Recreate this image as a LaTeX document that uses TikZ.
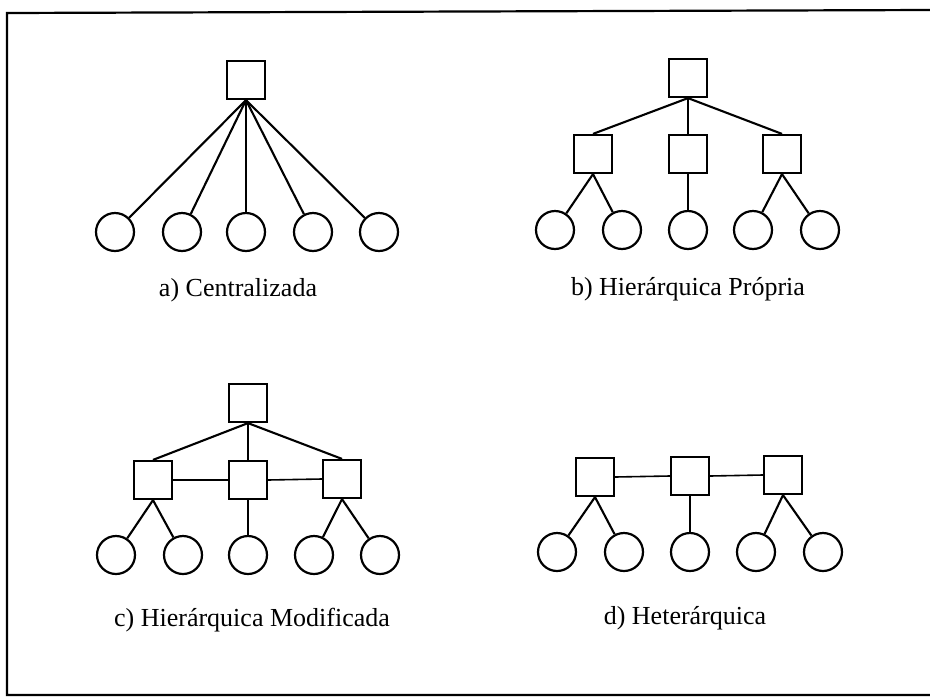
\documentclass[tikz,border=0pt]{standalone}
\usepackage{fontspec}
\setmainfont{Liberation Serif}
\begin{document}
\begin{tikzpicture}[x=1pt,y=-1pt,
  sq/.style={draw,line width=2.2pt,minimum size=38pt,inner sep=0pt},
  cr/.style={draw,circle,line width=2.2pt,minimum size=38pt,inner sep=0pt},
  ln/.style={line width=2.1pt},
  hl/.style={line width=1.6pt},
  lbl/.style={font=\fontsize{26}{30}\selectfont},
  frame/.style={line width=2.2pt}]
\useasboundingbox (0,0) rectangle (930,697);
% frame
\coordinate (ftl) at (7,13);
\coordinate (ftr) at (930,10);
\coordinate (fbl) at (7,695);
\coordinate (fbr) at (930,695);
\draw[frame] (ftr) -- (ftl) -- (fbl) -- (fbr);

% panel a
\node[sq] (ta) at (246,80) {};
\foreach \i/\x in {1/115,2/182,3/246,4/313,5/379}{
  \node[cr] (a\i) at (\x,232) {};
  \draw[ln] (ta.south) -- (a\i);
}
\node[lbl] (la) at (238,290) {a) Centralizada};

% panel b
\node[sq] (tb) at (688,78) {};
\node[sq] (b1) at (593,154) {};
\node[sq] (b2) at (688,154) {};
\node[sq] (b3) at (782,154) {};
\node[cr] (b11) at (555,230) {};
\node[cr] (b12) at (622,230) {};
\node[cr] (b21) at (688,230) {};
\node[cr] (b31) at (753,230) {};
\node[cr] (b32) at (820,230) {};
\draw[ln] (tb.south) -- (b1.north);
\draw[ln] (tb.south) -- (b2.north);
\draw[ln] (tb.south) -- (b3.north);
\draw[ln] (b1.south) -- (b11);
\draw[ln] (b1.south) -- (b12);
\draw[ln] (b2.south) -- (b21);
\draw[ln] (b3.south) -- (b31);
\draw[ln] (b3.south) -- (b32);
\node[lbl] (lb) at (688,289) {b) Hierárquica Própria};

% panel c
\node[sq] (tc) at (248,403) {};
\node[sq] (c1) at (153,480) {};
\node[sq] (c2) at (248,480) {};
\node[sq] (c3) at (342,479) {};
\node[cr] (c11) at (116,555) {};
\node[cr] (c12) at (183,555) {};
\node[cr] (c21) at (248,555) {};
\node[cr] (c31) at (314,555) {};
\node[cr] (c32) at (380,555) {};
\draw[ln] (tc.south) -- (c1.north);
\draw[ln] (tc.south) -- (c2.north);
\draw[ln] (tc.south) -- (c3.north);
\draw[hl] (c1.east) -- (c2.west);
\draw[hl] (c2.east) -- (c3.west);
\draw[ln] (c1.south) -- (c11);
\draw[ln] (c1.south) -- (c12);
\draw[ln] (c2.south) -- (c21);
\draw[ln] (c3.south) -- (c31);
\draw[ln] (c3.south) -- (c32);
\node[lbl] (lc) at (252,620) {c) Hierárquica Modificada};

% panel d
\node[sq] (d1) at (595,477) {};
\node[sq] (d2) at (690,476) {};
\node[sq] (d3) at (783,475) {};
\node[cr] (d11) at (557,552) {};
\node[cr] (d12) at (624,552) {};
\node[cr] (d21) at (690,552) {};
\node[cr] (d31) at (756,552) {};
\node[cr] (d32) at (823,552) {};
\draw[hl] (d1.east) -- (d2.west);
\draw[hl] (d2.east) -- (d3.west);
\draw[ln] (d1.south) -- (d11);
\draw[ln] (d1.south) -- (d12);
\draw[ln] (d2.south) -- (d21);
\draw[ln] (d3.south) -- (d31);
\draw[ln] (d3.south) -- (d32);
\node[lbl] (ld) at (685,618) {d) Heterárquica};
\end{tikzpicture}
\end{document}
